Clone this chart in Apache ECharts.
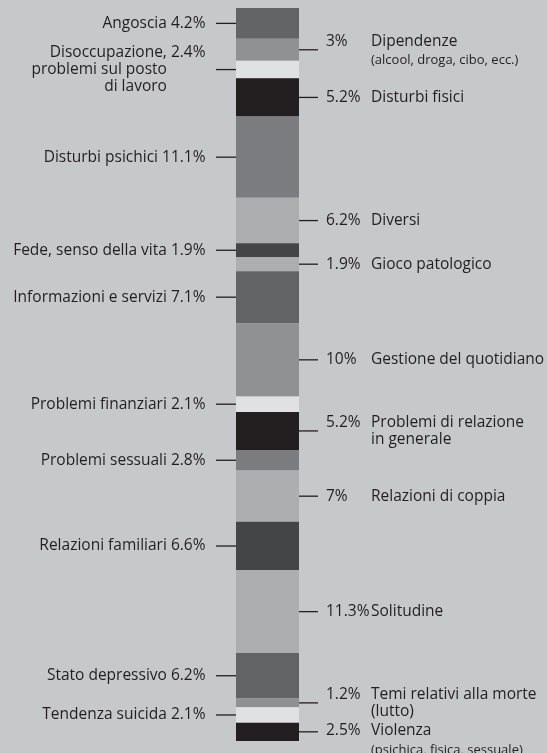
<!DOCTYPE html>
<html><head><meta charset="utf-8">
<script src="https://cdn.jsdelivr.net/npm/echarts@6/dist/echarts.min.js"></script>
<style>html,body{margin:0;padding:0;background:#c7c8ca;}#c{width:547px;height:753px;}</style>
</head><body><div id="c"></div>
<script>
// ---- data (top to bottom of the stacked bar) ----
const categories = [
  'Angoscia', 'Dipendenze', 'Disoccupazione,\nproblemi sul posto\ndi lavoro', 'Disturbi fisici',
  'Disturbi psichici', 'Diversi', 'Fede, senso della vita', 'Gioco patologico',
  'Informazioni e servizi', 'Gestione del quotidiano', 'Problemi finanziari',
  'Problemi di relazione\nin generale', 'Problemi sessuali', 'Relazioni di coppia',
  'Relazioni familiari', 'Solitudine', 'Stato depressivo',
  'Temi relativi alla morte\n(lutto)', 'Tendenza suicida', 'Violenza'
];
const values = [4.2, 3, 2.4, 5.2, 11.1, 6.2, 1.9, 1.9, 7.1, 10, 2.1, 5.2, 2.8, 7, 6.6, 11.3, 6.2, 1.2, 2.1, 2.5];
const valueLabels = ['4.2%', '3%', '2.4%', '5.2%', '11.1%', '6.2%', '1.9%', '1.9%', '7.1%', '10%',
  '2.1%', '5.2%', '2.8%', '7%', '6.6%', '11.3%', '6.2%', '1.2%', '2.1%', '2.5%'];
const notes = ['', '(alcool, droga, cibo, ecc.)', '', '', '', '', '', '', '', '', '', '', '', '', '', '', '', '', '', '(psichica, fisica, sessuale)'];
const sides = ['left', 'right', 'left', 'right', 'left', 'right', 'left', 'right', 'left', 'right',
  'left', 'right', 'left', 'right', 'left', 'right', 'left', 'right', 'left', 'right'];

// ---- styles ----
const palette = ['#636466', '#909193', '#e0e1e3', '#231f20', '#7b7c7f', '#adaeb0', '#444547', '#adaeb0',
  '#636466', '#909193', '#e0e1e3', '#231f20', '#7b7c7f', '#adaeb0', '#444547', '#adaeb0',
  '#636466', '#909193', '#e0e1e3', '#231f20'];
const TXT = '#231f20';
const FAMILY = '"Open Sans", "Noto Sans", sans-serif';
const FS = 15.5, NOTE_FS = 13, LH = 17;
const FONT = FS + 'px ' + FAMILY;

const starts = [];
values.reduce((acc, v, i) => { starts[i] = acc; return acc + v; }, 0);

const mctx = document.createElement('canvas').getContext('2d');
function tw(s) { mctx.font = FONT; return mctx.measureText(s).width; }

function txt(text, x, y, align, size, extra) {
  return { type: 'text', style: Object.assign({ text: text, x: x, y: y, align: align, verticalAlign: 'middle',
    fontSize: size, fontFamily: FAMILY, fill: TXT }, extra || {}) };
}

const chart = echarts.init(document.getElementById('c'), null, { renderer: 'canvas' });

const barSeries = values.map((v, i) => ({
  type: 'bar', name: categories[i], stack: 'all', data: [v],
  barWidth: '100%', itemStyle: { color: palette[i] }, silent: true
}));

const annotation = {
  type: 'custom', z: 5, silent: true, clip: false,
  data: values.map((v, i) => [0, starts[i], starts[i] + v, i]),
  encode: { x: 0, y: 1 },
  renderItem: function (params, api) {
    const i = api.value(3);
    const y = api.coord([0, (api.value(1) + api.value(2)) / 2])[1];
    const cx = api.coord([0, 0])[0];
    const bw = api.size([1, 0])[0];
    const L = cx - bw / 2, R = cx + bw / 2;
    const name = categories[i];
    const lines = name.split('\n');
    const n = lines.length;
    const children = [];
    if (sides[i] === 'left') {
      children.push({ type: 'line', shape: { x1: L - 20, y1: y, x2: L, y2: y }, style: { stroke: TXT, lineWidth: 1.3 } });
      const xt = L - 30.5;
      if (n === 1) {
        children.push(txt(name + ' ' + valueLabels[i], xt, y, 'right', FS));
      } else {
        const firstY = y - (n * LH) / 2 + LH / 2;
        const off = tw(' ' + valueLabels[i]);
        children.push(txt(valueLabels[i], xt, firstY, 'right', FS));
        children.push(txt(name, xt - off, y, 'right', FS, { lineHeight: LH }));
      }
    } else {
      children.push({ type: 'line', shape: { x1: R, y1: y, x2: R + 19, y2: y }, style: { stroke: TXT, lineWidth: 1.3 } });
      const xp = R + 27, xn = R + 72;
      let mainY = y;
      if (notes[i]) {
        mainY = (i === values.length - 1) ? y - 1 : y - 8;
        children.push(txt(notes[i], xn, mainY + 19, 'left', NOTE_FS));
      }
      const firstY = mainY - (n * LH) / 2 + LH / 2;
      children.push(txt(valueLabels[i], xp, firstY, 'left', FS));
      children.push(txt(name, xn, mainY, 'left', FS, { lineHeight: LH }));
    }
    return { type: 'group', children: children };
  }
};

chart.setOption({
  animation: false,
  backgroundColor: '#c7c8ca',
  grid: { left: 236, width: 63, top: 8, height: 733 },
  xAxis: { type: 'category', data: ['Temi'], show: false },
  yAxis: { type: 'value', min: 0, max: 100, inverse: true, show: false },
  series: barSeries.concat([annotation])
});
</script>
</body></html>
